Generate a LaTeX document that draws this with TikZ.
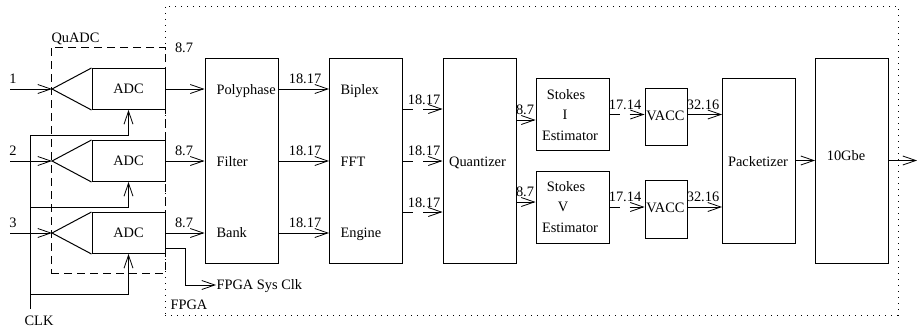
\documentclass[tikz,border=0pt]{standalone}
\usepackage{fontspec}
\setmainfont{Liberation Serif}
\usepackage{tikz}
\usetikzlibrary{positioning}
\usetikzlibrary{calc,arrows.meta}

\begin{document}
\begin{tikzpicture}[x=1pt,y=-1pt,line width=1pt,
  sig/.style={-{Straight Barb[length=13pt,width=9pt,line width=.8pt]}},
  brk/.style={sig,dash pattern=on 10pt off 10pt on 40pt},
  box/.style={draw,minimum width=73pt,inner sep=0pt},
  txt/.style={inner sep=0pt,text height=9.5pt,text depth=0pt,font=\fontsize{14.4}{16}\selectfont}]
\useasboundingbox (0,0) rectangle (917,332);
% outer regions
\node[draw,line width=.9pt,dash pattern=on 1.2pt off 4.8pt,minimum width=733pt,minimum height=309pt,inner sep=0pt] at (531.5,160.5) (fpga) {};
\node[draw,dash pattern=on 8pt off 5pt,minimum width=114pt,minimum height=226pt,inner sep=0pt] at (108,160) (quadc) {};
\node[txt,anchor=west] at (51,38) (quadclabel) {QuADC};
\node[txt,anchor=west] at (170,305) (fpgalabel) {FPGA};
% converters
\node[box,txt,minimum height=41pt] at (128.5,89) (adcone) {ADC};
\node[box,txt,minimum height=41pt] at (128.5,161) (adctwo) {ADC};
\node[box,txt,minimum height=41pt] at (128.5,233) (adcthree) {ADC};
\coordinate (tipone) at (52,89);
\coordinate (tiptwo) at (52,161);
\coordinate (tipthree) at (52,233);
\draw (adcone.north west) -- (tipone) -- (adcone.south west);
\draw (adctwo.north west) -- (tiptwo) -- (adctwo.south west);
\draw (adcthree.north west) -- (tipthree) -- (adcthree.south west);
% processing blocks
\node[box,minimum height=205pt] at (241.5,160.5) (pfb) {};
\node[box,minimum height=205pt] at (366,160.5) (fft) {};
\node[box,minimum height=205pt] at (479.5,160.5) (quant) {};
\node[box,minimum height=72pt] at (572.5,114) (stokesi) {};
\node[box,minimum height=72pt] at (572.5,207) (stokesv) {};
\node[box,minimum width=42pt,minimum height=57pt] at (666,116.5) (vaccone) {};
\node[box,minimum width=42pt,minimum height=58pt] at (666,209) (vacctwo) {};
\node[box,minimum height=165pt] at (759,160.5) (pack) {};
\node[box,minimum height=205pt] at (852,160.5) (gbe) {};
% texts inside the blocks
\node[txt,anchor=west] at (216,89.5) (poly) {Polyphase};
\node[txt,anchor=west] at (216,161.5) (filt) {Filter};
\node[txt,anchor=west] at (216,233) (bank) {Bank};
\node[txt,anchor=west] at (340,89.5) (biplex) {Biplex};
\node[txt,anchor=west] at (340,161.5) (ffttext) {FFT};
\node[txt,anchor=west] at (340,233) (engine) {Engine};
\node[txt] at (477.5,162) (quanttext) {Quantizer};
\node[txt] at (566,95) (stokesa) {Stokes};
\node[txt] at (565,115) (stokesb) {I};
\node[txt] at (570,136) (stokesc) {Estimator};
\node[txt] at (566,187) (stokesd) {Stokes};
\node[txt] at (563,207) (stokese) {V};
\node[txt] at (570,228) (stokesf) {Estimator};
\node[txt] at (665.5,115.5) (vacctexta) {VACC};
\node[txt] at (665.5,208) (vacctextb) {VACC};
\node[txt] at (758,162) (packtext) {Packetizer};
\node[txt] at (846,156) (gbelabel) {10Gbe};
% inputs and clock
\coordinate (inone) at (10,89);
\coordinate (intwo) at (10,161);
\coordinate (inthree) at (10,233);
\coordinate (clkstart) at (30,309);
\node[txt] at (39,320.5) (clk) {CLK};
\node[txt,anchor=west] at (216,285) (sysclk) {FPGA Sys Clk};
\node[txt] at (13,79) (labone) {1};
\node[txt] at (13,151) (labtwo) {2};
\node[txt] at (13,223) (labthree) {3};
\draw[sig] (inone) -- (tipone);
\draw[sig] (intwo) -- (tiptwo);
\draw[sig] (inthree) -- (tipthree);
\draw (clkstart) -- ($(clkstart)+(0,-174)$) coordinate (clktop);
\draw[sig] (clktop) -| (adcone.south);
\draw[sig] (clkstart |- 0,207) -| (adctwo.south);
\draw[sig] (clkstart |- 0,294) -| (adcthree.south);
\draw[sig] (adcthree.south east |- 0,248) -- (185,248) |- (sysclk.west);
% data path
\draw[sig] (adcone.east) -- (adcone.east -| pfb.west);
\draw[sig] (adctwo.east) -- (adctwo.east -| pfb.west);
\draw[sig] (adcthree.east) -- (adcthree.east -| pfb.west);
\draw[sig] (pfb.east |- 0,89) -- (fft.west |- 0,89);
\draw[sig] (pfb.east |- 0,161) -- (fft.west |- 0,161);
\draw[sig] (pfb.east |- 0,233) -- (fft.west |- 0,233);
\draw[brk] (fft.east |- 0,109) -- (quant.west |- 0,109);
\draw[brk] (fft.east |- 0,161) -- (quant.west |- 0,161);
\draw[brk] (fft.east |- 0,212) -- (quant.west |- 0,212);
\draw[sig] (quant.east |- 0,120) -- (stokesi.west |- 0,120);
\draw[sig] (quant.east |- 0,202) -- (stokesv.west |- 0,202);
\draw[brk] (stokesi.east |- 0,114.5) -- (vaccone.west |- 0,114.5);
\draw[brk] (stokesv.east |- 0,207) -- (vacctwo.west |- 0,207);
\draw[sig] (vaccone.east |- 0,114.5) -- (pack.west |- 0,114.5);
\draw[sig] (vacctwo.east |- 0,207) -- (pack.west |- 0,207);
\draw[sig] (pack.east) -- (pack.east -| gbe.west);
\coordinate (out) at (917,160.5);
\draw[sig] (gbe.east) -- (out);
% bit widths
\node[txt] at (184,48) (wa) {8.7};
\node[txt] at (184,151) (wb) {8.7};
\node[txt] at (184,223) (wc) {8.7};
\node[txt] at (305,79) (wd) {18.17};
\node[txt] at (305,151) (we) {18.17};
\node[txt] at (305,223) (wf) {18.17};
\node[txt] at (424,100) (wg) {18.17};
\node[txt] at (424,151) (wh) {18.17};
\node[txt] at (424,203) (wi) {18.17};
\node[txt] at (525,110) (wj) {8.7};
\node[txt] at (525,192) (wk) {8.7};
\node[txt] at (625,105) (wl) {17.14};
\node[txt] at (625,197) (wm) {17.14};
\node[txt] at (703,105) (wn) {32.16};
\node[txt] at (703,197) (wo) {32.16};
\end{tikzpicture}
\end{document}
